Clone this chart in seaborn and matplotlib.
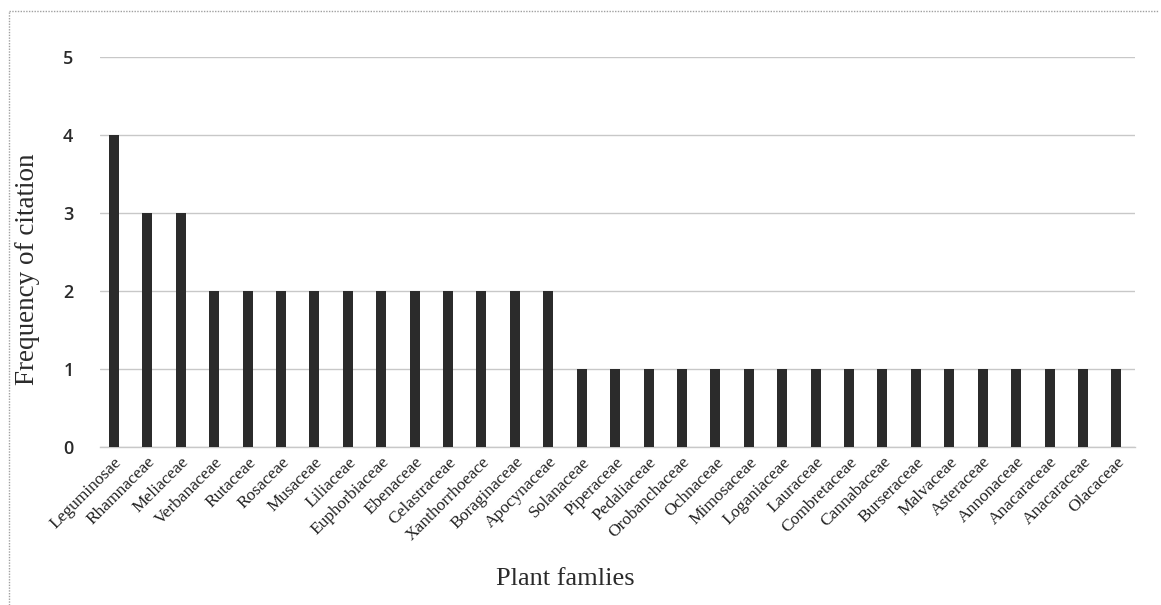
import matplotlib
matplotlib.use("Agg")
import matplotlib.pyplot as plt
import seaborn as sns
import pandas as pd

families = [
    "Leguminosae", "Rhamnaceae", "Meliaceae", "Verbanaceae", "Rutaceae",
    "Rosaceae", "Musaceae", "Liliaceae", "Euphorbiaceae", "Ebenaceae",
    "Celastraceae", "Xanthorrhoeace", "Boraginaceae", "Apocynaceae",
    "Solanaceae", "Piperaceae", "Pedaliaceae", "Orobanchaceae", "Ochnaceae",
    "Mimosaceae", "Loganiaceae", "Lauraceae", "Combretaceae", "Cannabaceae",
    "Burseraceae", "Malvaceae", "Asteraceae", "Annonaceae", "Anacaraceae",
    "Anacaraceae", "Olacaceae",
]
citations = [4, 3, 3, 2, 2, 2, 2, 2, 2, 2, 2, 2, 2, 2,
             1, 1, 1, 1, 1, 1, 1, 1, 1, 1, 1, 1, 1, 1, 1, 1, 1]
y_ticks = [0, 1, 2, 3, 4, 5]

df = pd.DataFrame({"pos": range(len(families)), "family": families,
                   "count": citations})

sns.set_theme(style="white")
fig = plt.figure(figsize=(11.61, 6.05), dpi=100)
ax = fig.add_axes([0.086, 0.261, 0.892, 0.645])

sns.barplot(data=df, x="pos", y="count", native_scale=True, width=0.3,
            color="#2b2b2b", saturation=1, edgecolor="none", ax=ax,
            zorder=3)

ax.set_xlim(-0.42, len(families) - 0.43)
ax.set_ylim(0, 5)
ax.set_yticks(y_ticks)
ax.set_yticklabels([str(t) for t in y_ticks], fontfamily="Open Sans",
                   fontweight="semibold", fontsize=13, color="#2a2a2a")
ax.set_xticks(df["pos"])
ax.set_xticklabels(families, rotation=45, ha="right", rotation_mode="anchor",
                   fontfamily="Liberation Serif", fontsize=12.5, color="#222222")
ax.tick_params(axis="x", length=0, pad=5)
ax.tick_params(axis="y", length=0, pad=19)

ax.yaxis.grid(True, color="#c8c8c8", linewidth=1.0, zorder=0)
ax.xaxis.grid(False)
for side in ["top", "right", "left"]:
    ax.spines[side].set_visible(False)
ax.spines["bottom"].set_color("#c8c8c8")
ax.spines["bottom"].set_linewidth(1.0)

ax.set_ylabel("Frequency of citation", fontfamily="Liberation Serif",
              fontsize=19.5, color="#2a2a2a")
ax.set_xlabel("Plant famlies", fontfamily="Liberation Serif",
              fontsize=19, color="#2a2a2a")
ax.yaxis.set_label_coords(-0.058, 0.455)
ax.xaxis.set_label_coords(0.449, -0.31)

# frame around the figure (left and top edges)
fig.add_artist(plt.Line2D([0.008, 0.008], [0.0, 0.982], transform=fig.transFigure,
                          color="#a0a0a0", linewidth=1.0, linestyle=(0, (1, 1))))
fig.add_artist(plt.Line2D([0.008, 0.998], [0.982, 0.982], transform=fig.transFigure,
                          color="#a0a0a0", linewidth=1.0, linestyle=(0, (1, 1))))

fig.savefig("out.png", dpi=100, facecolor="white")
